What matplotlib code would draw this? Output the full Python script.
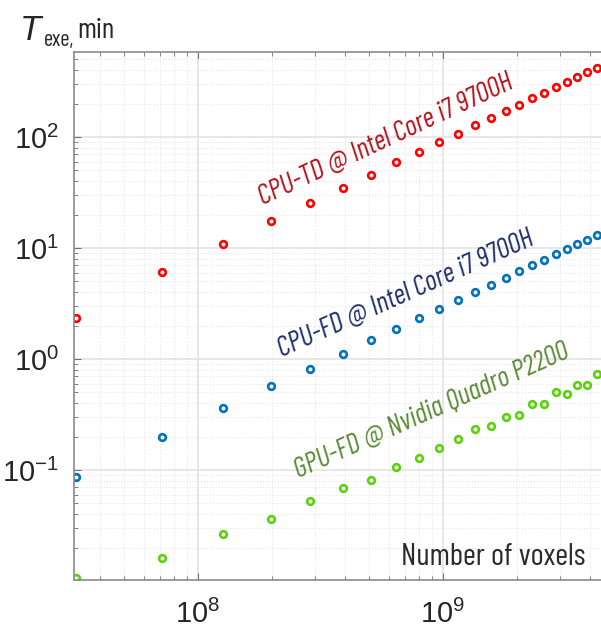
import numpy as np
import matplotlib.pyplot as plt
from matplotlib.ticker import LogLocator, NullFormatter

# number of voxels
voxels = [3.17e7, 7.13e7, 1.26e8, 1.99e8, 2.86e8, 3.91e8, 5.08e8, 6.43e8,
          7.98e8, 9.63e8, 1.15e9, 1.35e9, 1.57e9, 1.81e9, 2.04e9, 2.31e9,
          2.58e9, 2.89e9, 3.21e9, 3.52e9, 3.87e9, 4.25e9]

# execution time, min
cpu_td = [2.34, 6.08, 10.9, 17.5, 25.4, 34.7, 45.5, 59.6, 73.3, 90.2, 106,
          128, 148, 171, 194, 224, 249, 282, 313, 347, 385, 419]
cpu_fd = [0.087, 0.197, 0.360, 0.571, 0.807, 1.11, 1.47, 1.86, 2.36, 2.82,
          3.40, 3.99, 4.67, 5.40, 6.16, 6.98, 7.85, 8.77, 9.79, 10.8, 11.9, 13.0]
gpu_fd = [0.0106, 0.0161, 0.0267, 0.0359, 0.0529, 0.0684, 0.0818, 0.106,
          0.128, 0.157, 0.190, 0.234, 0.247, 0.300, 0.311, 0.396, 0.396,
          0.508, 0.481, 0.580, 0.580, 0.728]

labels = ['CPU-TD @ Intel Core i7 9700H',
          'CPU-FD @ Intel Core i7 9700H',
          'GPU-FD @ Nvidia Quadro P2200']

plt.rcParams['font.family'] = ['Liberation Sans', 'DejaVu Sans']
plt.rcParams['axes.unicode_minus'] = False
narrow = ['Barlow Condensed', 'DejaVu Sans']

fig = plt.figure(figsize=(6.01, 6.33), dpi=100)
ax = fig.add_axes([0.1231, 0.0837, 0.8769, 0.8342])

ax.set_xscale('log')
ax.set_yscale('log')
ax.set_xlim(3.118e7, 4.42e9)
ax.set_ylim(0.0102, 583)

mk = dict(linestyle='none', marker='o', markersize=4.8, markeredgewidth=1.9,
          markerfacecolor='white')
ax.plot(voxels, cpu_td, markeredgecolor='#ff0000', **mk)
ax.plot(voxels, cpu_fd, markeredgecolor='#0072bd', **mk)
ax.plot(voxels, gpu_fd, markeredgecolor='#5ad20a', **mk)

ax.xaxis.set_major_locator(LogLocator(base=10, numticks=20))
ax.yaxis.set_major_locator(LogLocator(base=10, numticks=20))
ax.xaxis.set_minor_locator(LogLocator(base=10, subs=np.arange(2, 10), numticks=50))
ax.yaxis.set_minor_locator(LogLocator(base=10, subs=np.arange(2, 10), numticks=50))
ax.xaxis.set_minor_formatter(NullFormatter())
ax.yaxis.set_minor_formatter(NullFormatter())

ax.grid(True, which='major', color='#e3e3e3', linewidth=1.2)
ax.grid(True, which='minor', color='#e6e6e6', linewidth=0.8, linestyle=':')
ax.set_axisbelow(True)

ax.tick_params(which='both', direction='in', top=True, right=False,
               color='#707070', labelsize=21, labelcolor='#262626')
ax.tick_params(which='major', length=5)
ax.tick_params(which='minor', length=3)
ax.tick_params(axis='x', pad=14)
ax.tick_params(axis='y', pad=11)
for s in ['left', 'bottom', 'top']:
    ax.spines[s].set_color('#8a8a8a')
    ax.spines[s].set_linewidth(1.2)
ax.spines['right'].set_visible(False)

txt = dict(fontsize=20.5, style='italic', family=narrow,
           rotation_mode='anchor', ha='left', va='baseline')
ax.text(1.84e8, 24.4, labels[0], color='#b5121b', rotation=25, **txt)
ax.text(2.20e8, 1.04, labels[1], color='#1f2f6b', rotation=24, **txt)
ax.text(2.56e8, 0.0847, labels[2], color='#5b8a35', rotation=24, **txt)

ax.text(583 / 601, 0.028, 'Number of voxels', transform=ax.transAxes,
        fontsize=22.5, color='#2b2b2b', family=narrow,
        ha='right', va='baseline')

fig.text(20 / 601, 1 - 40 / 633, 'T', fontsize=25, style='italic',
         color='#262626', ha='left', va='baseline')
fig.text(44 / 601, 1 - 46 / 633, 'exe,', fontsize=16, family=narrow,
         color='#262626', ha='left', va='baseline')
fig.text(77 / 601, 1 - 38 / 633, 'min', fontsize=21, family=narrow,
         color='#262626', ha='left', va='baseline')

plt.savefig('out.png', dpi=100)
